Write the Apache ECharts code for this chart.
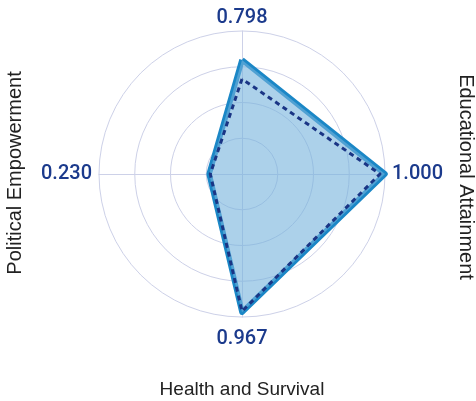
<!DOCTYPE html>
<html><head><meta charset="utf-8">
<script src="https://cdn.jsdelivr.net/npm/echarts@6/dist/echarts.min.js"></script>
<style>html,body{margin:0;padding:0;background:#fff}#c{width:476px;height:401px}</style>
</head><body><div id="c"></div>
<script>
// indicators listed in drawing order (top, left, bottom, right)
const indicators = ['Economic Participation and Opportunity','Political Empowerment','Health and Survival','Educational Attainment'];
const countryValues = [0.798, 0.230, 0.967, 1.000];
const averageValues = [0.665, 0.222, 0.960, 0.965];
const valueLabels = ['0.798','0.230','0.967','1.000'];
const maxValue = 1;
const labelStyleKeys = ['t','s','b','s'];

const chart = echarts.init(document.getElementById('c'), null, {renderer:'canvas'});
const baseName = {color:'#1b3a8c', fontSize:20, fontWeight:500, fontFamily:'Roboto, Arial, sans-serif'};
chart.setOption({
  animation:false,
  backgroundColor:'#fff',
  radar:{
    center:[242,174],
    radius:143,
    startAngle:90,
    splitNumber:4,
    shape:'circle',
    indicator: indicators.map((n,i)=>({name:valueLabels[i], max:maxValue, min:0})),
    nameGap:7,
    axisName:{
      color:'#1b3a8c', fontSize:20, fontWeight:500, fontFamily:'Roboto, Arial, sans-serif',
      formatter:function(name){
        const i = valueLabels.indexOf(name);
        return '{' + labelStyleKeys[i] + '|' + name + '}';
      },
      rich:{
        t:Object.assign({lineHeight:12}, baseName),
        b:Object.assign({lineHeight:30}, baseName),
        s:Object.assign({lineHeight:22}, baseName)
      }
    },
    splitLine:{lineStyle:{color:'#cdd1e8', width:1}},
    splitArea:{show:false},
    axisLine:{lineStyle:{color:'#cdd1e8', width:1}},
    axisTick:{show:false},
    axisLabel:{show:false}
  },
  series:[{
    type:'radar',
    symbol:'none',
    data:[
      {value:countryValues, lineStyle:{color:'#1b87c6', width:5.5, join:'round'}, areaStyle:{color:'rgba(117,178,220,0.6)', opacity:1}},
      {value:averageValues, lineStyle:{color:'#1a3585', width:3, type:[5,4]}, areaStyle:null}
    ]
  }],
  graphic:[
    {type:'text', x:242, y:380, style:{text:indicators[2], font:'19px "Liberation Sans", Arial, sans-serif', fill:'#222', align:'center', verticalAlign:'top'}},
    {type:'text', x:476, y:177, rotation:-Math.PI/2, style:{text:indicators[3], font:'20px "Liberation Sans", Arial, sans-serif', fill:'#222', align:'center', verticalAlign:'top'}},
    {type:'text', x:5, y:173, rotation:Math.PI/2, style:{text:indicators[1], font:'20px "Liberation Sans", Arial, sans-serif', fill:'#222', align:'center', verticalAlign:'top'}}
  ]
});
</script></body></html>
